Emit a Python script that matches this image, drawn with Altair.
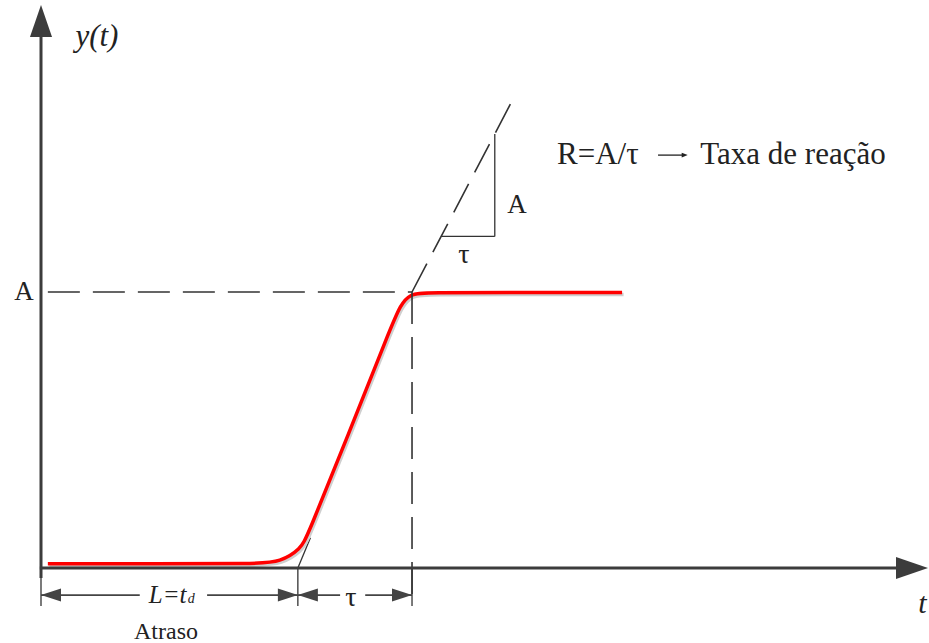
import altair as alt
import pandas as pd

# Process reaction curve: dead time L = t_d, time constant tau, final value A
L_DELAY = 4.5
TAU = 2.0
A_GAIN = 1.0

# Axis extents (data units)
T_AXIS_END = 15.54
Y_AXIS_END = 2.04

# Red step response, read point by point (smoothed with a B-spline)
curve_t = [0.12, 2.0, 3.75, 4.2, 4.55, 4.66, 5.39, 6.11, 6.3, 6.47, 6.72, 8.5, 10.18]
curve_y = [0.015, 0.015, 0.015, 0.022, 0.07, 0.112, 0.487, 0.862, 0.955, 0.993, 0.998, 0.998, 0.998]

# Dashed continuation of the tangent and the slope triangle
EXT_END = (8.234, 1.685)
TRI_T = [7.01, 7.95]
TANGENT_TOP = 0.11

# Dimension lines under the time axis
DIM_Y = -0.098
EXT_LOW = -0.138

# Reaction-rate note: formula, arrow, meaning
NOTE_Y = 1.496
NOTE_T = [9.04, 10.81, 11.33, 11.55]   # formula start, arrow start, arrow tip, text start

# Pixel size of one unit on each axis
PX_T = 57.08
PX_Y = 276.0
W, H = 929, 643

x_scale = alt.Scale(domain=[-41 / PX_T, (W - 41) / PX_T], nice=False, zero=False)
y_scale = alt.Scale(domain=[-(H - 568) / PX_Y, 568 / PX_Y], nice=False, zero=False)

X = alt.X("t:Q", scale=x_scale, axis=None)
Y = alt.Y("y:Q", scale=y_scale, axis=None)

INK = "#333333"
FONT = "Liberation Serif"


def segments(rows):
    return pd.DataFrame(rows, columns=["t", "y", "t2", "y2"])


def rules(df, **mark):
    return alt.Chart(df).mark_rule(**mark).encode(x=X, y=Y, x2="t2:Q", y2="y2:Q")


def heads(df, path, size, color):
    return alt.Chart(df).mark_point(
        shape=path, size=size, filled=True, fill=color, stroke=None, opacity=1
    ).encode(x=X, y=Y)


# coordinate axes
axes = rules(segments([
    [0, -0.036, 0, Y_AXIS_END - 0.06],
    [-0.02, 0, T_AXIS_END - 0.3, 0],
]), stroke="#3c3c3c", strokeWidth=3)

arrow_right = "M0,0 L-2,-0.69 L-2,0.69 Z"
arrow_left = "M0,0 L2,-0.65 L2,0.65 Z"
arrow_up = "M0,0 L-0.69,2 L0.69,2 Z"
dim_right = "M0,0 L-2,-0.65 L-2,0.65 Z"
note_head = "M0,0 L-2,-0.8 L-2,0.8 Z"

axis_heads = alt.layer(
    heads(pd.DataFrame({"t": [T_AXIS_END], "y": [0]}), arrow_right, 1024, "#3c3c3c"),
    heads(pd.DataFrame({"t": [0], "y": [Y_AXIS_END]}), arrow_up, 1024, "#3c3c3c"),
)

# slope of the tangent and of the dashed extension
tan_slope = A_GAIN / TAU
slope = (EXT_END[1] - A_GAIN) / (EXT_END[0] - (L_DELAY + TAU))
tri_y0 = A_GAIN + slope * (TRI_T[0] - (L_DELAY + TAU))
tri_y1 = A_GAIN + slope * (TRI_T[1] - (L_DELAY + TAU))

thin = rules(segments([
    [L_DELAY, 0, L_DELAY + TANGENT_TOP / tan_slope, TANGENT_TOP],  # tangent foot
    [TRI_T[0], tri_y0, TRI_T[1], tri_y0],         # triangle base (tau)
    [TRI_T[1], tri_y0, TRI_T[1], tri_y1],         # triangle height (A)
    [0, 0, 0, EXT_LOW],                           # extension lines
    [L_DELAY, 0, L_DELAY, EXT_LOW],
    [L_DELAY + TAU, 0, L_DELAY + TAU, EXT_LOW],
]), stroke=INK, strokeWidth=1.3)

dashed = rules(segments([
    [0.12, A_GAIN, L_DELAY + TAU, A_GAIN],
    [L_DELAY + TAU, A_GAIN, L_DELAY + TAU, EXT_LOW],
    [L_DELAY + TAU, A_GAIN, EXT_END[0], EXT_END[1]],
]), stroke=INK, strokeWidth=1.6, strokeDash=[32, 13])

curve_df = pd.DataFrame({"t": curve_t, "y": curve_y})
curve_shadow = alt.Chart(curve_df).mark_line(
    color="#cfcfcf", strokeWidth=3.5, interpolate="basis", xOffset=1.5, yOffset=2
).encode(x=X, y=Y)
curve = alt.Chart(curve_df).mark_line(
    color="#ff0000", strokeWidth=3.5, interpolate="basis"
).encode(x=X, y=Y)

# dimension lines for L and tau
dims = rules(segments([
    [0, DIM_Y, 1.73, DIM_Y],
    [2.91, DIM_Y, L_DELAY, DIM_Y],
    [L_DELAY, DIM_Y, 5.24, DIM_Y],
    [5.68, DIM_Y, L_DELAY + TAU, DIM_Y],
]), stroke="#444444", strokeWidth=1.8)

dim_heads = alt.layer(
    heads(pd.DataFrame({"t": [0, L_DELAY], "y": [DIM_Y, DIM_Y]}), arrow_left, 400, "#444444"),
    heads(pd.DataFrame({"t": [L_DELAY, L_DELAY + TAU], "y": [DIM_Y, DIM_Y]}), dim_right, 400, "#444444"),
)

# arrow of the reaction-rate note
note_arrow = alt.layer(
    rules(segments([[NOTE_T[1], NOTE_Y, NOTE_T[2] - 0.1, NOTE_Y]]), stroke="#222222", strokeWidth=1.3),
    heads(pd.DataFrame({"t": [NOTE_T[2]], "y": [NOTE_Y]}), note_head, 36, "#222222"),
)


def label(text, t, y, size, align="center", style="normal", baseline="middle"):
    df = pd.DataFrame({"t": [t], "y": [y], "label": [text]})
    return alt.Chart(df).mark_text(
        font=FONT, fontSize=size, fontStyle=style, align=align, baseline=baseline, color="#222222"
    ).encode(x=X, y=Y, text="label:N")


texts = alt.layer(
    label("y(t)", 0.98, 1.924, 31, style="italic"),
    label("A", -0.30, A_GAIN, 27),
    label("A", 8.34, 1.315, 27),
    label("τ", 7.41, 1.135, 28),
    label("R=A/τ", NOTE_T[0], NOTE_Y, 31, align="left"),
    label("Taxa de reação", NOTE_T[3], NOTE_Y, 31, align="left"),
    label("L=t", 2.55, DIM_Y, 25, align="right", style="italic"),
    label("d", 2.57, -0.114, 14, align="left", style="italic"),
    label("τ", 5.43, DIM_Y - 0.01, 28),
    label("Atraso", 2.19, -0.232, 24),
    label("t", 15.37, -0.13, 30, align="left", style="italic"),
)

chart = alt.layer(
    thin, curve_shadow, curve, dashed, axes, axis_heads, dims, dim_heads, note_arrow, texts
).properties(
    width=W, height=H, padding=0, autosize=alt.AutoSizeParams(type="none"), background="white"
).configure_view(stroke=None)

chart.save("out.html", embed_options={"renderer": "svg", "actions": False})
